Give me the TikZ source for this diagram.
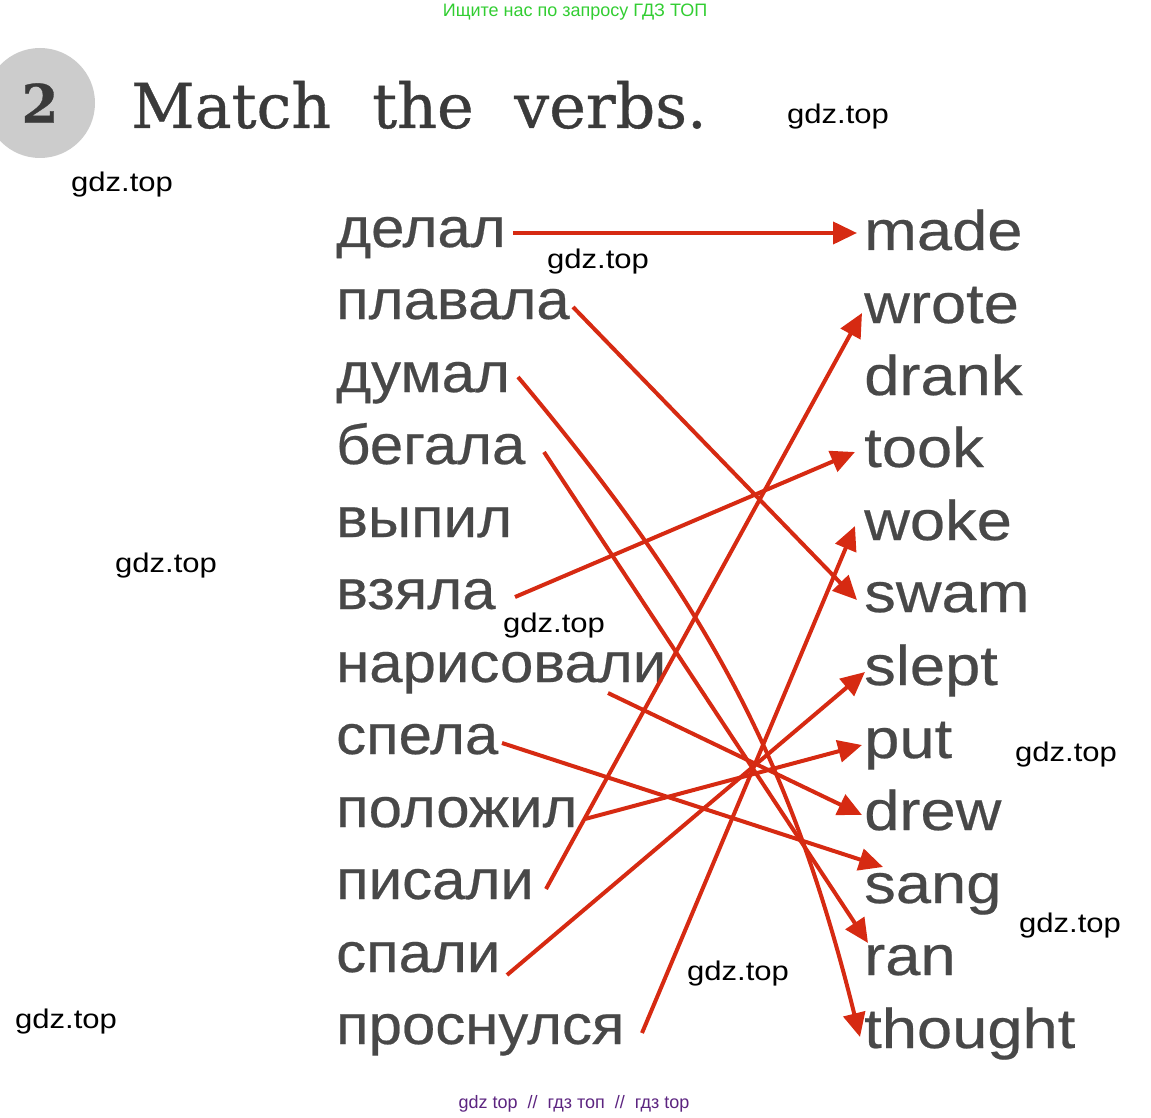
\documentclass[tikz,border=0pt]{standalone}
\usepackage{fontspec}
\usetikzlibrary{arrows.meta}
\setmainfont{Liberation Sans}
\newfontfamily\rusfont[FakeStretch=1.07,FakeBold=0.4]{Liberation Sans}
\newfontfamily\engfont[FakeStretch=1.13,FakeBold=0.4]{Liberation Sans}
\newfontfamily\titlefont[FakeBold=0.6]{DejaVu Serif}
\newfontfamily\markfont[FakeStretch=1.15]{Liberation Sans}
\definecolor{linered}{RGB}{214,42,18}
\definecolor{wordgray}{RGB}{72,72,72}
\definecolor{titlegray}{RGB}{58,58,58}
\definecolor{bannergreen}{RGB}{50,205,50}
\definecolor{footpurple}{RGB}{92,36,128}

\begin{document}
\begin{tikzpicture}[x=1pt,y=-1pt,
  word/.style={anchor=base west,inner sep=0pt,text=wordgray},
  rusword/.style={word,font=\rusfont\fontsize{56}{60}\selectfont},
  engword/.style={word,font=\engfont\fontsize{56}{60}\selectfont},
  titleword/.style={anchor=base west,inner sep=0pt,text=titlegray,font=\titlefont\fontsize{62}{66}\selectfont},
  wmark/.style={anchor=base,inner sep=0pt,font=\markfont\fontsize{27}{30}\selectfont},
  matchline/.style={draw=linered,line width=4pt,-{Triangle[length=24pt,width=22pt]}}]
\useasboundingbox (0,0) rectangle (1151,1118);
% header
\node [anchor=base,inner sep=0pt,text=bannergreen,font=\fontsize{18}{20}\selectfont] (banner) at (575,17) {Ищите нас по запросу ГДЗ ТОП};
\node [circle,fill=black!20,minimum size=110pt,inner sep=0pt,text=titlegray,font=\titlefont\bfseries\fontsize{53}{56}\selectfont] (num) at (40,103) {2};
\node [titleword] (match) at (131,128) {Match};
\node [titleword] (the) at (372,128) {the};
\node [titleword] (verbs) at (514,128) {verbs.};
% russian verbs
\node [rusword] (delal) at (336,247) {делал};
\node [rusword] (plavala) at (336,319) {плавала};
\node [rusword] (dumal) at (336,392) {думал};
\node [rusword] (begala) at (336,464) {бегала};
\node [rusword] (vypil) at (336,537) {выпил};
\node [rusword] (vzyala) at (336,609) {взяла};
\node [rusword] (narisovali) at (336,682) {нарисовали};
\node [rusword] (spela) at (336,754) {спела};
\node [rusword] (polozhil) at (336,827) {положил};
\node [rusword] (pisali) at (336,899) {писали};
\node [rusword] (spali) at (336,972) {спали};
\node [rusword] (prosnulsya) at (336,1044) {проснулся};
% english verbs
\node [engword] (made) at (864,250) {made};
\node [engword] (wrote) at (864,323) {wrote};
\node [engword] (drank) at (864,395) {drank};
\node [engword] (took) at (864,467) {took};
\node [engword] (woke) at (864,540) {woke};
\node [engword] (swam) at (864,612) {swam};
\node [engword] (slept) at (864,685) {slept};
\node [engword] (put) at (864,758) {put};
\node [engword] (drew) at (864,830) {drew};
\node [engword] (sang) at (864,903) {sang};
\node [engword] (ran) at (864,975) {ran};
\node [engword] (thought) at (864,1048) {thought};
% line ends
\coordinate (delal-out) at (513,233);
\coordinate (plavala-out) at (573,307);
\coordinate (dumal-out) at (518,377);
\coordinate (begala-out) at (544,452);
\coordinate (vzyala-out) at (515,597);
\coordinate (narisovali-out) at (608,693);
\coordinate (spela-out) at (502,743);
\coordinate (polozhil-out) at (585,819);
\coordinate (pisali-out) at (546,889);
\coordinate (spali-out) at (507,975);
\coordinate (prosnulsya-out) at (642,1033);
\coordinate (made-in) at (857,233);
\coordinate (wrote-in) at (862,313);
\coordinate (took-in) at (855,452);
\coordinate (woke-in) at (855,526);
\coordinate (swam-in) at (857,600);
\coordinate (slept-in) at (865,672);
\coordinate (put-in) at (862,745);
\coordinate (drew-in) at (862,815);
\coordinate (sang-in) at (883,867);
\coordinate (ran-in) at (868,943);
\coordinate (thought-in) at (860,1037);
% matches
\draw [matchline] (delal-out) -- (made-in);
\draw [matchline] (plavala-out) -- (swam-in);
\draw [matchline] (dumal-out) .. controls +(187,223) and +(-70,-282) .. (thought-in);
\draw [matchline] (begala-out) -- (ran-in);
\draw [matchline] (vzyala-out) -- (took-in);
\draw [matchline] (narisovali-out) -- (drew-in);
\draw [matchline] (spela-out) -- (sang-in);
\draw [matchline] (polozhil-out) -- (put-in);
\draw [matchline] (pisali-out) -- (wrote-in);
\draw [matchline] (spali-out) -- (slept-in);
\draw [matchline] (prosnulsya-out) -- (woke-in);
% watermarks
\node [wmark] (gdz1) at (838,124) {gdz.top};
\node [wmark] (gdz2) at (122,192) {gdz.top};
\node [wmark] (gdz3) at (598,268) {gdz.top};
\node [wmark] (gdz4) at (166,572) {gdz.top};
\node [wmark] (gdz5) at (554,632) {gdz.top};
\node [wmark] (gdz6) at (1066,761) {gdz.top};
\node [wmark] (gdz7) at (1070,932) {gdz.top};
\node [wmark] (gdz8) at (738,980) {gdz.top};
\node [wmark] (gdz9) at (66,1028) {gdz.top};
\node [anchor=base,inner sep=0pt,text=footpurple,font=\fontsize{18}{20}\selectfont] (footer) at (574,1108) {gdz top \ // \ гдз топ \ // \ гдз top};
\end{tikzpicture}
\end{document}
